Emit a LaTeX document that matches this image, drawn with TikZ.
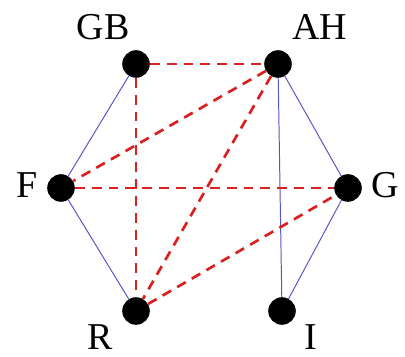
\documentclass[tikz,border=0pt]{standalone}
\usepackage{fontspec}
\setmainfont{Liberation Serif}
\usepackage{tikz}
\definecolor{edgeblue}{rgb}{0.33,0.33,0.80}
\definecolor{edgered}{rgb}{0.86,0.12,0.12}
\tikzset{
  vertex/.style={circle,fill=black,inner sep=0pt,minimum size=0.68cm},
  vname/.style={font=\fontsize{27}{30}\selectfont,inner sep=1pt},
  solidedge/.style={edgeblue,line width=0.7pt},
  dashedge/.style={edgered,line width=1.9pt,dash pattern=on 7pt off 5pt}
}
\begin{document}
\begin{tikzpicture}
\useasboundingbox (0,0) rectangle (10.125,8.925);
% vertices
\node[vertex] (GB) at (3.4,7.325) {};
\node[vertex] (AH) at (6.95,7.325) {};
\node[vertex] (F) at (1.525,4.225) {};
\node[vertex] (G) at (8.7,4.225) {};
\node[vertex] (R) at (3.4,1.15) {};
\node[vertex] (I) at (7.05,1.15) {};
% names
\node[vname] (tGB) at (2.575,8.25) {GB};
\node[vname] (tAH) at (8.0,8.25) {AH};
\node[vname] (tF) at (0.675,4.3) {F};
\node[vname] (tG) at (9.625,4.3) {G};
\node[vname] (tR) at (2.5,0.5) {R};
\node[vname] (tI) at (7.775,0.5) {I};
% edges
\draw[solidedge] (GB.center) -- (F.center) -- (R.center);
\draw[solidedge] (AH.center) -- (I.center);
\draw[solidedge] (AH.center) -- (G.center) -- (I.center);
\draw[dashedge] (GB) -- (AH);
\draw[dashedge] (GB) -- (R);
\draw[dashedge] (AH) -- (F);
\draw[dashedge] (AH) -- (R);
\draw[dashedge] (F) -- (G);
\draw[dashedge] (R) -- (G);
% dots on top
\foreach \v in {GB,AH,F,G,R,I}
  \fill (\v) circle (0.34cm);
\end{tikzpicture}
\end{document}
